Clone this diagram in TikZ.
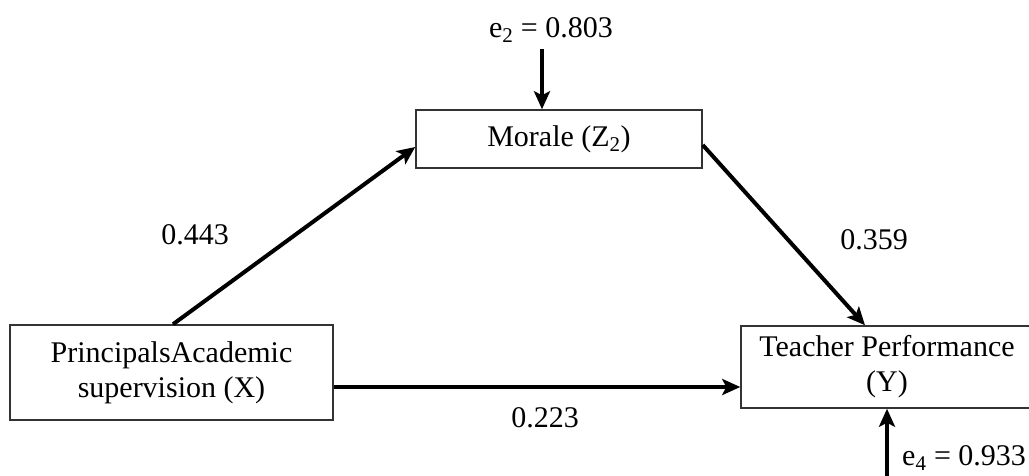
\documentclass[tikz,border=0pt]{standalone}
\usepackage{fontspec}
\setmainfont{Liberation Serif}
\usetikzlibrary{arrows.meta}
\begin{document}
\begin{tikzpicture}[x=1pt,y=-1pt,
  every node/.style={font=\fontsize{30pt}{35pt}\selectfont},
  varbox/.style={draw=black!80,line width=1.5pt,inner sep=0pt,align=center},
  path/.style={line width=4pt,-{Stealth[length=18pt,width=16pt,inset=4pt]}},
  err/.style={line width=3.5pt,-{Stealth[length=18pt,width=16pt,inset=4pt]}},
  lbl/.style={inner sep=0pt}]
\useasboundingbox (0,0) rectangle (1029,475);
\node[varbox,minimum width=323pt,minimum height=95pt] (x) at (171.5,372.5) {PrincipalsAcademic\\supervision (X)};
\node[varbox,minimum width=286pt,minimum height=58pt] (m) at (559,139) {Morale (Z\textsubscript{2})};
\node[varbox,minimum width=292pt,minimum height=82pt] (y) at (887,367) {Teacher Performance\\(Y)};
\node[lbl] (e2) at (551,30) {e\textsubscript{2} = 0.803};
\node[lbl,anchor=west] (e4) at (902,458) {e\textsubscript{4} = 0.933};
\coordinate (e4s) at (887,476);
\draw[path] ([xshift=1.5pt]x.north) -- ([yshift=-8pt]m.west);
\draw[path] ([yshift=-6pt]m.east) -- ([xshift=-22pt]y.north);
\draw[path] ([yshift=-14.5pt]x.east) -- ([yshift=-20pt]y.west);
\draw[err] ([xshift=-9pt,yshift=-6pt]e2.south) -- ([xshift=-17pt]m.north);
\draw[err] (e4s) -- (y.south);
\node[lbl] (l1) at (195,235) {0.443};
\node[lbl] (l2) at (874,240) {0.359};
\node[lbl] (l3) at (545,418) {0.223};
\end{tikzpicture}
\end{document}
